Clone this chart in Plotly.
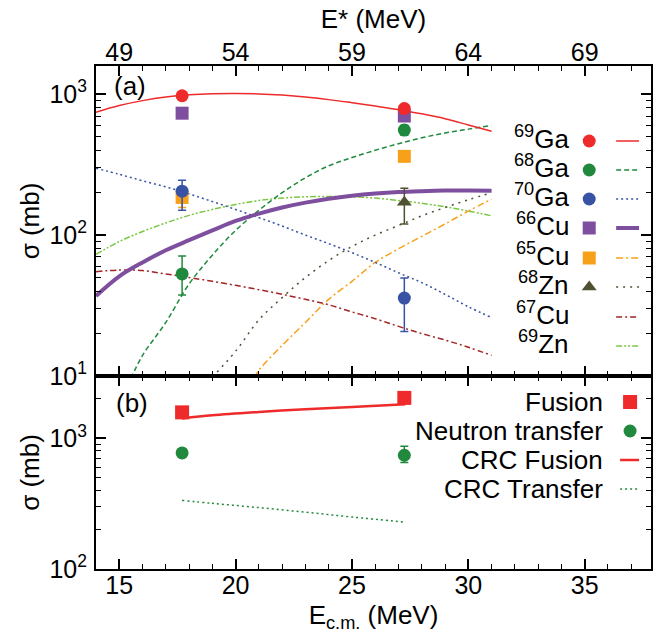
import plotly.graph_objects as go

# ---------------- data ----------------
E_pts = [17.7, 27.25]          # E_cm of the measured points (MeV)
estar_ticks = [15, 20, 25, 30, 35]
estar_labels = ["49", "54", "59", "64", "69"]
ya_tickvals = [10, 100, 1000]
ya_ticktext = ["10<sup>1</sup>", "10<sup>2</sup>", "10<sup>3</sup>"]
yb_tickvals = [100, 1000]
yb_ticktext = ["10<sup>2</sup>", "10<sup>3</sup>"]

# panel (a) measured cross sections (mb)
ga69_pts = [975, 790]
ga69_err = [40, 40]
ga68_pts = [53, 556]
ga68_err_p = [18, 45]
ga68_err_m = [15.5, 45]
ga70_pts = [205, 35.7]
ga70_err_p = [40, 14]
ga70_err_m = [55, 15]
cu66_pts = [733, 700]
cu66_err = [25, 30]
cu65_pts = [185, 362]
cu65_err = [28, 25]
zn68_x = [27.25]
zn68_pts = [171]
zn68_err_p = [44]
zn68_err_m = [51]

# panel (a) calculated curves
x_full = [14, 15, 16, 17, 18, 19, 20, 21, 22, 23, 24, 25, 26, 27, 28, 29, 30, 31]
ga69_curve = [745, 830, 900, 955, 990, 1008, 1012, 1005, 985, 955, 915, 870, 825, 775, 725, 670, 605, 545]
ga70_curve = [298, 270, 243, 220, 196, 173, 152, 133, 116, 100, 87, 75, 64, 54, 46, 38, 31, 26]
cu66_curve = [37, 51, 64, 78, 92, 108, 126, 142, 157, 170, 181, 190, 197, 202, 205, 207, 207, 206]
cu67_curve = [55, 56.5, 56, 53, 50, 47, 44, 41, 38, 35, 32, 28.5, 25.5, 22.5, 20, 18, 16, 14]
zn69_curve = [73, 90, 106, 122, 138, 152, 165, 176, 183, 187, 188, 187, 183, 176, 168, 159, 148, 137]
x_ga68 = [15.5, 16, 17, 18, 19, 20, 21, 22, 23, 24, 25, 26, 27, 28, 29, 30, 31]
ga68_curve = [9.6, 14, 24, 45, 72, 108, 150, 200, 255, 310, 355, 400, 445, 490, 530, 565, 600]
x_cu65 = [20.8, 21, 22, 23, 24, 25, 26, 27, 28, 29, 30, 31]
cu65_curve = [9.7, 11, 16.5, 24, 35, 47, 64, 80, 98, 120, 148, 180]
x_zn68 = [19, 20, 21, 22, 23, 24, 25, 26, 27, 28, 29, 30, 31]
zn68_curve = [9.8, 15, 25, 36, 50, 66, 83, 100, 117, 137, 157, 178, 200]

# panel (b)
fusion_pts = [1580, 2040]
fusion_err = [60, 80]
ntr_pts = [773, 742]
ntr_err_p = [30, 128]
ntr_err_m = [30, 89]
x_crc = [17.7, 19, 21, 23, 25, 27.3]
crc_fusion = [1420, 1500, 1590, 1670, 1740, 1820]
crc_transfer = [335, 318, 295, 272, 250, 228]

# ---------------- styles ----------------
C_RED = "#ee2a2a"
C_GREEN = "#21893d"
C_BLUE = "#3853a4"
C_PURPLE = "#7f4f9f"
C_ORANGE = "#f7a11a"
C_OLIVE = "#4f5132"
C_DRED = "#a32425"
C_LGREEN = "#79c843"
FONT = "Liberation Sans, Arial, Helvetica, sans-serif"

fig = go.Figure()

def curve(x, y, color, width, dash, xa="x", ya="y"):
    fig.add_trace(go.Scatter(x=x, y=y, mode="lines", xaxis=xa, yaxis=ya,
                             line=dict(color=color, width=width, dash=dash, shape="spline", smoothing=1.0),
                             showlegend=False, hoverinfo="skip"))

def points(x, y, color, symbol, ep, em, size=13, xa="x", ya="y"):
    fig.add_trace(go.Scatter(x=x, y=y, mode="markers", xaxis=xa, yaxis=ya,
                             marker=dict(color=color, symbol=symbol, size=size, line=dict(width=0)),
                             error_y=dict(type="data", array=ep, arrayminus=em, color=color,
                                          thickness=1.5, width=4),
                             showlegend=False))

# panel (a) curves
curve(x_full, zn69_curve, C_LGREEN, 1.5, "6px,2px,2px,2px,2px,2px")
curve(x_full, cu67_curve, C_DRED, 1.5, "6px,3px,2px,3px")
curve(x_zn68, zn68_curve, C_OLIVE, 1.5, "2px,5px")
curve(x_cu65, cu65_curve, C_ORANGE, 1.5, "7px,3px,2px,3px")
curve(x_full, ga70_curve, C_BLUE, 1.5, "2px,3px")
curve(x_ga68, ga68_curve, C_GREEN, 1.5, "5px,3px")
curve(x_full, cu66_curve, C_PURPLE, 4, "solid")
curve(x_full, ga69_curve, C_RED, 1.5, "solid")

# panel (a) points
points(E_pts, cu65_pts, C_ORANGE, "square", cu65_err, cu65_err)
points(E_pts, ga70_pts, C_BLUE, "circle", ga70_err_p, ga70_err_m)
points(E_pts, ga68_pts, C_GREEN, "circle", ga68_err_p, ga68_err_m)
points(zn68_x, zn68_pts, C_OLIVE, "triangle-up", zn68_err_p, zn68_err_m)
points(E_pts, cu66_pts, C_PURPLE, "square", cu66_err, cu66_err)
points(E_pts, ga69_pts, C_RED, "circle", ga69_err, ga69_err)

# panel (b)
curve(x_crc, crc_transfer, C_GREEN, 1.5, "2px,3px", xa="x2", ya="y2")
curve(x_crc, crc_fusion, C_RED, 2.5, "solid", xa="x2", ya="y2")
points(E_pts, ntr_pts, C_GREEN, "circle", ntr_err_p, ntr_err_m, xa="x2", ya="y2")
points(E_pts, fusion_pts, C_RED, "square", fusion_err, fusion_err, size=14, xa="x2", ya="y2")

# ---------------- manual legends (on a hidden full-area axis) ----------------
L, R, T, B = 96, 653, 66, 569
def fx(px):
    return (px - L) / (R - L)
def fy(py):
    return (B - py) / (B - T)

legend_a = [
    ("<sup>69</sup>Ga", C_RED, "circle", 1.5, "solid"),
    ("<sup>68</sup>Ga", C_GREEN, "circle", 1.5, "5px,3px"),
    ("<sup>70</sup>Ga", C_BLUE, "circle", 1.5, "2px,3px"),
    ("<sup>66</sup>Cu", C_PURPLE, "square", 4, "solid"),
    ("<sup>65</sup>Cu", C_ORANGE, "square", 1.5, "7px,3px,2px,3px"),
    ("<sup>68</sup>Zn", C_OLIVE, "triangle-up", 1.5, "2px,5px"),
    ("<sup>67</sup>Cu", C_DRED, None, 1.5, "6px,3px,2px,3px"),
    ("<sup>69</sup>Zn", C_LGREEN, None, 1.5, "6px,2px,2px,2px,2px,2px"),
]
ya_rows = [141, 170, 199, 228, 258, 287, 317, 346]
annotations = []
for (lab, col, sym, w, dash), py in zip(legend_a, ya_rows):
    if sym:
        fig.add_trace(go.Scatter(x=[fx(591)], y=[fy(py)], mode="markers", xaxis="x3", yaxis="y3",
                                 marker=dict(color=col, symbol=sym, size=13, line=dict(width=0)),
                                 showlegend=False, hoverinfo="skip"))
    fig.add_trace(go.Scatter(x=[fx(618), fx(641)], y=[fy(py), fy(py)], mode="lines", xaxis="x3", yaxis="y3",
                             line=dict(color=col, width=w, dash=dash), showlegend=False, hoverinfo="skip"))
    annotations.append(dict(text=lab, x=fx(573), y=fy(py - 4), xref="x3", yref="y3",
                            xanchor="right", yanchor="middle", showarrow=False,
                            font=dict(size=26, family=FONT, color="black")))

legend_b = [
    ("Fusion", C_RED, "square", None, None),
    ("Neutron transfer", C_GREEN, "circle", None, None),
    ("CRC Fusion", C_RED, None, 2.5, "solid"),
    ("CRC Transfer", C_GREEN, None, 1.5, "2px,3px"),
]
yb_rows = [402, 431, 460, 489]
for (lab, col, sym, w, dash), py in zip(legend_b, yb_rows):
    if sym:
        fig.add_trace(go.Scatter(x=[fx(632)], y=[fy(py)], mode="markers", xaxis="x3", yaxis="y3",
                                 marker=dict(color=col, symbol=sym, size=14 if sym == "square" else 13,
                                             line=dict(width=0)),
                                 showlegend=False, hoverinfo="skip"))
    else:
        fig.add_trace(go.Scatter(x=[fx(622), fx(641)], y=[fy(py), fy(py)], mode="lines", xaxis="x3", yaxis="y3",
                                 line=dict(color=col, width=w, dash=dash), showlegend=False, hoverinfo="skip"))
    annotations.append(dict(text=lab, x=fx(607), y=fy(py), xref="x3", yref="y3",
                            xanchor="right", yanchor="middle", showarrow=False,
                            font=dict(size=26, family=FONT, color="black")))

annotations.append(dict(text="(a)", x=fx(112), y=fy(86), xref="x3", yref="y3", xanchor="left",
                        yanchor="middle", showarrow=False, font=dict(size=26, family=FONT, color="black")))
annotations.append(dict(text="(b)", x=fx(114), y=fy(403), xref="x3", yref="y3", xanchor="left",
                        yanchor="middle", showarrow=False, font=dict(size=26, family=FONT, color="black")))

# ---------------- axes ----------------
split = (B - 376) / (B - T)
minor_a = [v * 10 ** e for e in (1, 2, 3) for v in range(2, 10) if v * 10 ** e < 1600] + [2, 3, 4, 5, 6, 7, 8, 9]
minor_b = [v * 10 ** e for e in (2, 3) for v in range(2, 10) if v * 10 ** e <= 3000]
tickfont = dict(size=25, family=FONT, color="black")
titlefont = dict(size=26, family=FONT, color="black")
xr = [14, 37.85]

common_x = dict(range=xr, showline=True, linewidth=2, linecolor="black", ticks="inside",
                ticklen=10, tickwidth=1.5, tickcolor="black", mirror="ticks", showgrid=False,
                zeroline=False, minor=dict(dtick=1, ticks="inside", ticklen=5, tickwidth=1.2,
                                           tickcolor="black", showgrid=False))
common_y = dict(type="log", showline=True, linewidth=2, linecolor="black", ticks="inside",
                ticklen=10, tickwidth=1.5, tickcolor="black", mirror="ticks", showgrid=False,
                zeroline=False, tickmode="array", tickfont=tickfont, ticklabelstandoff=2)

fig.update_layout(
    width=655, height=633, autosize=False,
    margin=dict(l=L, r=655 - R, t=T, b=633 - B),
    paper_bgcolor="white", plot_bgcolor="rgba(0,0,0,0)",
    font=dict(family=FONT, color="black"),
    showlegend=False,
    xaxis=dict(**common_x, anchor="y", side="top", tickmode="array", tickvals=estar_ticks,
               ticktext=estar_labels, tickfont=tickfont, ticklabelstandoff=-7,
               title=dict(text="E* (MeV)", font=titlefont, standoff=2)),
    yaxis=dict(**common_y, domain=[split, 1], range=[1, 3.2], anchor="x",
               tickvals=ya_tickvals, ticktext=ya_ticktext,
               minor=dict(tickmode="array", tickvals=minor_a, ticks="inside", ticklen=5,
                          tickwidth=1.2, tickcolor="black", showgrid=False),
               title=dict(text="σ (mb)", font=titlefont, standoff=2)),
    xaxis2=dict(**common_x, anchor="y2", side="bottom", dtick=5, tick0=15, tickfont=tickfont,
                ticklabelstandoff=-7, matches="x",
                title=dict(text="E<sub>c.m.</sub> (MeV)", font=titlefont, standoff=10)),
    yaxis2=dict(**common_y, domain=[0, split], range=[2, 3.477], anchor="x2",
                tickvals=yb_tickvals, ticktext=yb_ticktext,
                minor=dict(tickmode="array", tickvals=minor_b, ticks="inside", ticklen=5,
                           tickwidth=1.2, tickcolor="black", showgrid=False),
                title=dict(text="σ (mb)", font=titlefont, standoff=2)),
    xaxis3=dict(domain=[0, 1], range=[0, 1], anchor="y3", visible=False, fixedrange=True),
    yaxis3=dict(domain=[0, 1], range=[0, 1], anchor="x3", visible=False, fixedrange=True),
    annotations=annotations,
)

fig.write_html("out.html")
